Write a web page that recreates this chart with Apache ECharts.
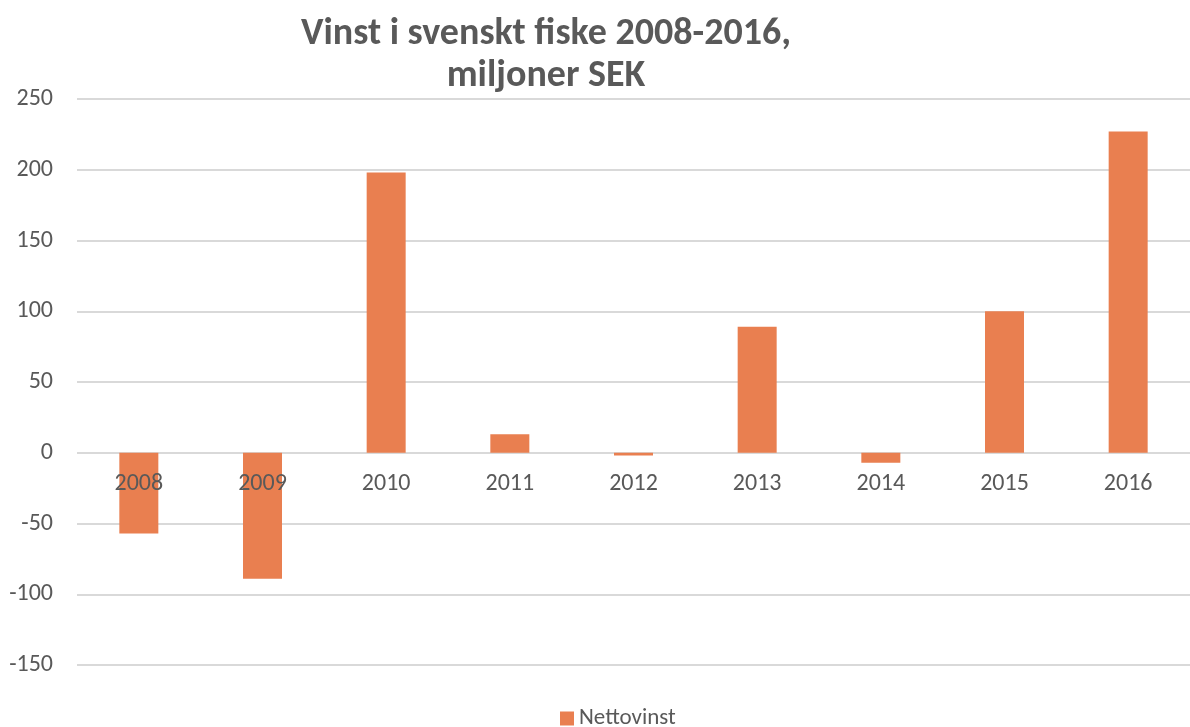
<!DOCTYPE html>
<html>
<head>
<meta charset="utf-8">
<script src="https://cdn.jsdelivr.net/npm/echarts@6/dist/echarts.min.js"></script>
<style>
html,body{margin:0;padding:0;background:#fff;}
#chart{width:1190px;height:727px;}
</style>
</head>
<body>
<div id="chart"></div>
<script>
var titleText = 'Vinst i svenskt fiske 2008-2016,\nmiljoner SEK';
var seriesName = 'Nettovinst';
var categories = ['2008','2009','2010','2011','2012','2013','2014','2015','2016'];
var nettovinst = [-57, -89, 198, 13, -2, 89, -7, 100, 227];
var yMin = -150, yMax = 250, yStep = 50;

var FONT = 'Carlito, Lato, "Open Sans", sans-serif';
var TXT = '#595959';
var chart = echarts.init(document.getElementById('chart'));
chart.setOption({
  animation: false,
  backgroundColor: '#ffffff',
  textStyle: { fontFamily: FONT },
  title: {
    text: titleText,
    left: 541,
    top: 8,
    textAlign: 'center',
    textStyle: { fontFamily: FONT, fontSize: 38, fontWeight: 'bold', color: TXT, lineHeight: 42 }
  },
  legend: {
    data: [seriesName],
    left: 555,
    top: 702,
    itemWidth: 14,
    itemHeight: 14,
    itemGap: 6,
    icon: 'rect',
    textStyle: { fontFamily: FONT, fontSize: 23, color: TXT }
  },
  grid: { left: 77, right: 0, top: 99, bottom: 62, containLabel: false },
  xAxis: {
    type: 'category',
    data: categories,
    z: 10,
    axisLine: { show: false },
    axisTick: { show: false },
    axisLabel: { fontFamily: FONT, fontSize: 24, color: TXT, margin: -193 }
  },
  yAxis: {
    type: 'value',
    min: yMin, max: yMax, interval: yStep,
    axisLine: { show: false },
    axisTick: { show: false },
    splitLine: { lineStyle: { color: '#d9d9d9', width: 2 } },
    axisLabel: { fontFamily: FONT, fontSize: 24, color: TXT, margin: 24 }
  },
  series: [{
    name: seriesName,
    type: 'bar',
    data: nettovinst,
    barWidth: 39,
    itemStyle: { color: '#E97F50' }
  }]
});
</script>
</body>
</html>
